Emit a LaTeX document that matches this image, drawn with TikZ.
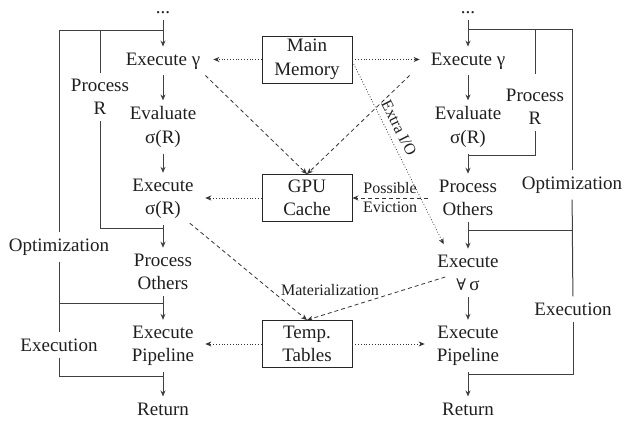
\documentclass[tikz,border=0pt]{standalone}
\usepackage{fontspec}
\setmainfont{Liberation Serif}
\newfontfamily\djvserif{DejaVu Serif}
\usetikzlibrary{arrows.meta}
\begin{document}
\begin{tikzpicture}[x=1pt,y=-1pt,
  txt/.style={font=\rmfamily\fontsize{19}{23.5}\selectfont, align=center, inner xsep=2pt, inner ysep=6pt, text=black!88},
  lbl/.style={txt},
  small/.style={font=\rmfamily\fontsize{16}{19}\selectfont, text=black!88},
  boxn/.style={draw=black!85, line width=0.9pt, minimum width=90pt, minimum height=47pt, align=center, inner sep=0pt, font=\rmfamily\fontsize{19}{23.5}\selectfont, text=black!88},
  ln/.style={line width=1pt, draw=black!75},
  tip/.style={-{Stealth[length=6pt,width=5pt]}},
  arr/.style={ln, tip},
  dotarr/.style={line width=0.8pt, draw=black!80, dash pattern=on 0.8pt off 2pt, tip},
  dasharr/.style={line width=0.8pt, draw=black!80, dash pattern=on 4pt off 3pt, tip}
]
\useasboundingbox (0,0) rectangle (625,422);

% left column
\node[txt] (d1)  at (163,13)  {...};
\node[txt] (eg1) at (163,61)  {Execute γ};
\node[txt] (ev1) at (163,127) {Evaluate\\σ(R)};
\node[txt] (es1) at (163,199) {Execute\\σ(R)};
\node[txt] (po1) at (163,272) {Process\\Others};
\node[txt] (ep1) at (163,346) {Execute\\Pipeline};
\node[txt] (rt1) at (163,409) {Return};
\draw[arr] (d1) -- (eg1);
\draw[arr] (eg1) -- (ev1);
\draw[arr] (ev1) -- (es1);
\draw[arr] (es1) -- (po1);
\draw[arr] (po1) -- (ep1);
\draw[arr] (ep1) -- (rt1);

\coordinate (t1) at (163,31);
\coordinate (j1) at (163,229);
\coordinate (j2) at (163,304);
\coordinate (j3) at (163,377);
\node[lbl] (pr1) at (100,97)  {Process\\R};
\node[lbl] (op1) at (59,247)  {Optimization};
\node[lbl] (ex1) at (59,345)  {Execution};
\draw[ln] (pr1) |- (t1);
\draw[ln] (pr1) |- (j1);
\draw[ln] (op1) |- (t1);
\draw[ln] (op1) -- (ex1);
\draw[ln] (ex1.north |- j2) -- (j2);
\draw[ln] (ex1) |- (j3);

% right column
\node[txt] (d2)  at (468,13)  {...};
\node[txt] (eg2) at (468,61)  {Execute γ};
\node[txt] (ev2) at (468,127) {Evaluate\\σ(R)};
\node[txt] (po2) at (468,198) {Process\\Others};
\node[txt] (ea)  at (468,273) {Execute\\{\djvserif\fontsize{16}{19}\selectfont ∀}\,σ};
\node[txt] (ep2) at (468,346) {Execute\\Pipeline};
\node[txt] (rt2) at (468,409) {Return};
\draw[arr] (d2) -- (eg2);
\draw[arr] (eg2) -- (ev2);
\draw[arr] (ev2) -- (po2);
\draw[arr] (po2) -- (ea);
\draw[arr] (ea) -- (ep2);
\draw[arr] (ep2) -- (rt2);

\coordinate (t2) at (468,30);
\coordinate (k1) at (468,156);
\coordinate (k2) at (468,231);
\coordinate (k3) at (468,375);
\node[lbl] (pr2) at (535,107) {Process\\R};
\node[lbl] (op2) at (572,185) {Optimization};
\node[lbl] (ex2) at (573,309) {Execution};
\draw[ln] ([yshift=9pt]pr2.north) |- (t2);
\draw[ln] (pr2) |- (k1);
\draw[ln] (op2) |- (t2);
\draw[ln] (op2) -- (ex2);
\draw[ln] (ex2.north |- k2) -- (k2);
\draw[ln] (ex2) |- (k3);

% centre boxes
\node[boxn] (mm) at (307,59.5) {Main\\Memory};
\node[boxn] (gc) at (307,198)  {GPU\\Cache};
\node[boxn] (tt) at (307,344)  {Temp.\\Tables};

% dotted arrows
\draw[dotarr, shorten >=11pt] (mm) -- (mm -| eg1.east);
\draw[dotarr, shorten >=9pt]  (mm) -- (mm -| eg2.west);
\draw[dotarr, shorten >=9.5pt] (gc) -- (gc -| es1.east);
\draw[dotarr, shorten >=9pt]  (tt) -- (tt -| ep1.east);
\draw[dotarr, shorten >=10pt] (tt) -- (tt -| ep2.west);
\draw[dotarr] ([yshift=-2pt]mm.east) -- ([xshift=8.5pt,yshift=4.5pt]ea.north west);
\node[small, rotate=-63.3] (xio) at (399,128) {Extra I/O};

% dashed arrows
\draw[dasharr] ([xshift=3pt]eg1.south east) -- (gc.north);
\draw[dasharr] ([xshift=-19pt]eg2.south west) -- (gc.north);
\draw[dasharr] ([xshift=-9pt]po2.west) -- (gc.east)
  node[midway, above, small, inner sep=4pt] {Possible}
  node[midway, below, small, inner sep=4pt] {Eviction};
\draw[dasharr] ([xshift=-6pt,yshift=2pt]es1.south east) -- (tt.north);
\draw[dasharr] ([xshift=10pt,yshift=-4pt]ea.west) -- (tt.north);
\node[small] (mat) at (330,290) {Materialization};
\end{tikzpicture}
\end{document}
